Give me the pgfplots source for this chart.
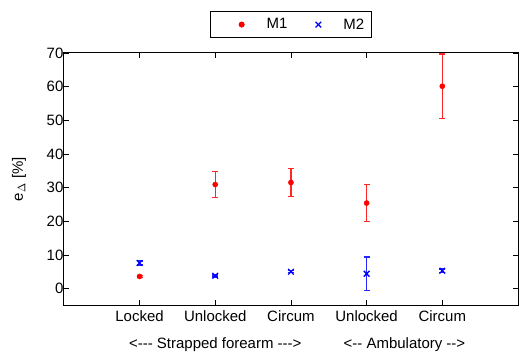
\documentclass[border=0pt]{standalone}
\usepackage{fontspec}
\setmainfont{Liberation Sans}
\usepackage{pgfplots}
\pgfplotsset{compat=1.18}
\pgfplotsset{wideleg/.style={legend image code/.code={\path[draw=none,fill=none] (0pt,-1pt) rectangle (46pt,1pt); \draw[##1, only marks] plot coordinates {(26pt,0pt)};}}}
\begin{document}
\begin{tikzpicture}
\begin{axis}[
  name=ax,
  scale only axis,
  clip=false,
  width=455pt, height=253pt,
  xmin=0, xmax=6, ymin=-5, ymax=70,
  xtick={1,2,3,4,5},
  xticklabels={Locked,Unlocked,Circum,Unlocked,Circum},
  ytick={0,10,...,70},
  tick align=inside,
  major tick length=5pt,
  tick style={black, line width=0.6pt},
  axis line style={line width=0.8pt},
  font=\fontsize{15}{17}\selectfont,
  /pgf/number format/assume math mode=true,
  xticklabel style={yshift=-2pt},
  yticklabel style={xshift=3pt},
  ylabel={e$_\Delta$ [\%]},
  ylabel style={yshift=14pt},
  legend columns=2,
  legend style={at={(0.5,1)}, anchor=south, yshift=15pt, draw=black, line width=0.8pt,
    font=\fontsize{15}{17}\selectfont, inner xsep=5pt, inner ysep=5pt,
    /tikz/every odd column/.append style={column sep=3pt},
    /tikz/every even column/.append style={column sep=3pt}},
  legend cell align=left,
]
\addplot[only marks, red, mark=*, mark size=2.6pt, wideleg,
  error bars/.cd, y dir=both, y explicit,
  error bar style={line width=1.5pt, red!85!white},
  error mark options={rotate=90, mark size=3pt, line width=1.5pt, red!85!white}]
  table[x=x, y=y, y error=e] {
x y e
1 3.6 0.3
2 30.9 3.85
3 31.5 4.2
4 25.4 5.55
5 60.1 9.6
};
\addlegendentry{M1}
\addplot[only marks, blue, mark=x, mark size=4pt, mark options={line width=1.3pt}, wideleg,
  error bars/.cd, y dir=both, y explicit,
  error bar style={line width=1.5pt, blue!85!white},
  error mark options={rotate=90, mark size=3pt, line width=1.5pt, blue!85!white}]
  table[x=x, y=y, y error=e] {
x y e
1 7.6 0.6
2 3.8 0.3
3 5.0 0.3
4 4.4 5.0
5 5.3 0.5
};
\addlegendentry{M2}
\node[anchor=base, font=\fontsize{15}{17}\selectfont] at (axis cs:2,-5) [yshift=-43pt] {<-{}-{}- Strapped forearm -{}-{}->};
\node[anchor=base, font=\fontsize{15}{17}\selectfont] at (axis cs:4.5,-5) [yshift=-43pt] {<-{}- Ambulatory -{}->};
\end{axis}
\pgfresetboundingbox
\path ([xshift=-64pt,yshift=-48pt]ax.south west) rectangle ([xshift=1pt,yshift=53pt]ax.north east);
\end{tikzpicture}
\end{document}
